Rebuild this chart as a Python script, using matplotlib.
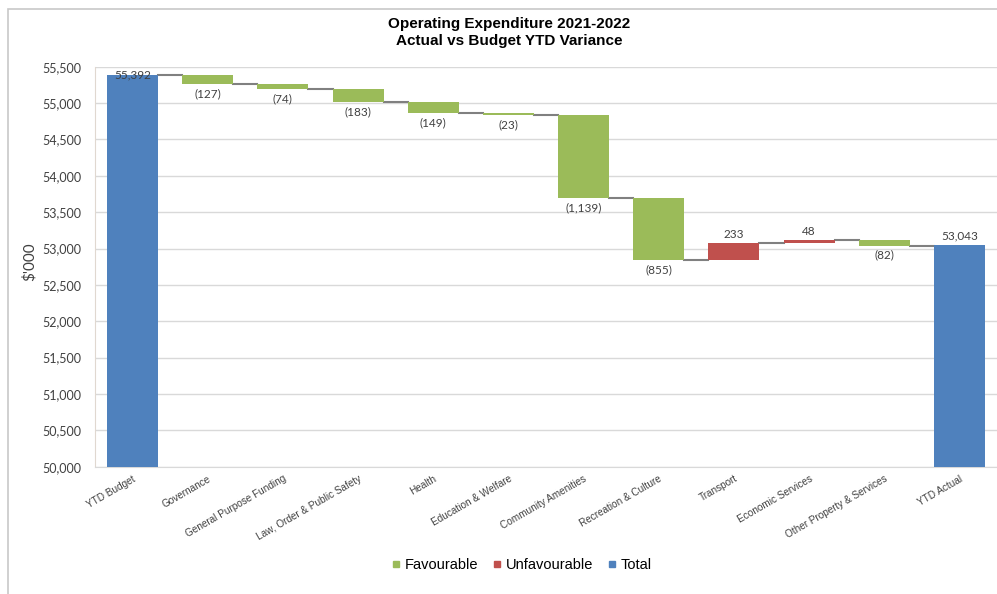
import matplotlib.pyplot as plt
from matplotlib.lines import Line2D
from matplotlib.patches import Rectangle
from matplotlib.ticker import FuncFormatter

categories = ["YTD Budget", "Governance", "General Purpose Funding",
              "Law, Order & Public Safety", "Health", "Education & Welfare",
              "Community Amenities", "Recreation & Culture", "Transport",
              "Economic Services", "Other Property & Services", "YTD Actual"]
ytd_budget = 55392
ytd_actual = 53043
variances = [-127, -74, -183, -149, -23, -1139, -855, 233, 48, -82]

GREEN = "#9bbb59"
RED = "#c0504d"
BLUE = "#4f81bd"
LINK = "#808080"
W = 0.68


def fmt(v):
    s = "{:,}".format(abs(v))
    return "(%s)" % s if v < 0 else s


fig = plt.figure(figsize=(9.97, 5.94), dpi=100)
ax = fig.add_axes([0.0953, 0.2143, 0.9047, 0.6734])

# outer chart frame
fig.patches.append(Rectangle((0.008, -0.05), 1.1, 0.035 + 1.0, transform=fig.transFigure,
                             fill=False, ec="#c8c8c8", lw=1.2, zorder=0))

lbl = dict(fontsize=8.5, color="#404040", family="Lato", ha="center")

# totals
ax.bar(0, ytd_budget, width=W, color=BLUE, zorder=3)
ax.text(0, ytd_budget, fmt(ytd_budget), va="center", **lbl)
n = len(categories) - 1
ax.bar(n, ytd_actual, width=W, color=BLUE, zorder=3)
ax.annotate(fmt(ytd_actual), (n, ytd_actual), xytext=(0, 3), textcoords="offset points",
            va="bottom", **lbl)

level = ytd_budget
for i, v in enumerate(variances, start=1):
    new = level + v
    ax.plot([i - 1 + W / 2, i - W / 2], [level, level], color=LINK, lw=1.5, zorder=2)
    ax.bar(i, abs(v), bottom=min(level, new), width=W,
           color=GREEN if v < 0 else RED, zorder=3)
    if v < 0:
        ax.annotate(fmt(v), (i, new), xytext=(0, -3), textcoords="offset points",
                    va="top", **lbl)
    else:
        ax.annotate(fmt(v), (i, new), xytext=(0, 2), textcoords="offset points",
                    va="bottom", **lbl)
    level = new
ax.plot([n - 1 + W / 2, n - W / 2], [level, level], color=LINK, lw=1.5, zorder=2)

ax.set_xlim(-0.5, n + 0.5)
ax.set_ylim(50000, 55500)
ax.set_yticks(range(50000, 55501, 500))
ax.yaxis.set_major_formatter(FuncFormatter(lambda y, p: "{:,}".format(int(y))))
for t in ax.get_yticklabels():
    t.set_family("Lato")
    t.set_fontsize(9)
    t.set_color("#404040")
ax.tick_params(axis="y", length=0, pad=10)
ax.tick_params(axis="x", length=0, pad=5)
ax.set_xticks(range(len(categories)))
ax.set_xticklabels(categories, rotation=30, ha="right", rotation_mode="anchor",
                   fontsize=7.2, family="Liberation Sans", color="#404040")
ax.grid(axis="y", color="#d9d9d9", lw=1, zorder=0)
ax.set_axisbelow(True)
for s in ["top", "right"]:
    ax.spines[s].set_visible(False)
ax.spines["left"].set_color("#e0d8d0")
ax.spines["bottom"].set_color("#d9d9d9")

fig.text(0.030, 0.559, "$'000", rotation=90, ha="center", va="center",
         fontsize=11, family="Lato", color="#404040")
fig.text(0.511, 0.945, "Operating Expenditure 2021-2022\nActual vs Budget YTD Variance",
         ha="center", va="center", fontsize=11, fontweight="bold",
         family="Liberation Sans", linespacing=1.3)

handles = [Line2D([], [], marker="s", ls="none", color=c, markersize=5)
           for c in (GREEN, RED, BLUE)]
fig.legend(handles, ["Favourable", "Unfavourable", "Total"], loc="center",
           bbox_to_anchor=(0.522, 0.049), ncol=3, frameon=False,
           prop={"family": "Liberation Sans", "size": 10.5},
           handletextpad=0.1, columnspacing=0.8, handlelength=1.0)

fig.savefig("out.png", dpi=100)
